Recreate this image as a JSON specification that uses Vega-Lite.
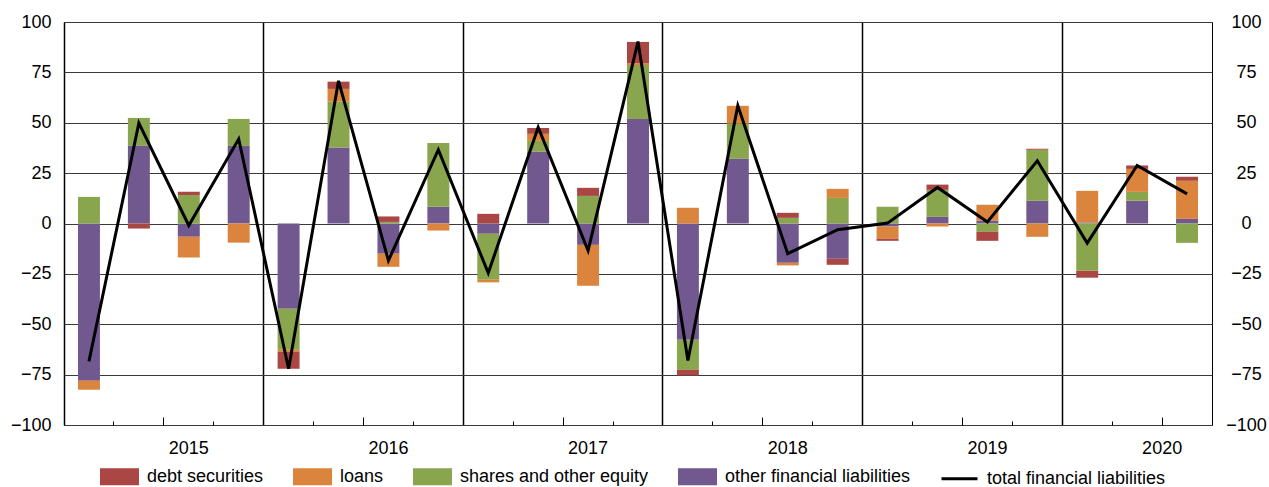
{
  "$schema": "https://vega.github.io/schema/vega-lite/v6.json",
  "width": 1148,
  "height": 403,
  "autosize": "none",
  "padding": {"left": 64, "top": 22, "right": 57, "bottom": 62},
  "background": "white",
  "config": {
    "font": "Liberation Sans",
    "view": {"stroke": "black", "strokeWidth": 1},
    "axis": {"labelFont": "Liberation Sans", "labelFontSize": 18, "labelColor": "black", "domain": false, "title": null}
  },
  "data": {
    "values": [
      {"q": "2015Q1", "debt securities": 0, "loans": -4.5, "shares and other equity": 13.2, "other financial liabilities": -78.0, "total": -68.4},
      {"q": "2015Q2", "debt securities": -2.5, "loans": 0, "shares and other equity": 13.9, "other financial liabilities": 38.5, "total": 49.8},
      {"q": "2015Q3", "debt securities": 1.5, "loans": -10.3, "shares and other equity": 14.2, "other financial liabilities": -6.6, "total": -1.0},
      {"q": "2015Q4", "debt securities": 0, "loans": -9.5, "shares and other equity": 13.4, "other financial liabilities": 38.5, "total": 41.9},
      {"q": "2016Q1", "debt securities": -8.5, "loans": -1.0, "shares and other equity": -20.3, "other financial liabilities": -42.3, "total": -72.1},
      {"q": "2016Q2", "debt securities": 3.6, "loans": 6.3, "shares and other equity": 22.8, "other financial liabilities": 37.7, "total": 70.8},
      {"q": "2016Q3", "debt securities": 2.7, "loans": -6.5, "shares and other equity": 0.8, "other financial liabilities": -15.0, "total": -18.4},
      {"q": "2016Q4", "debt securities": 0, "loans": -3.5, "shares and other equity": 31.7, "other financial liabilities": 8.3, "total": 36.6},
      {"q": "2017Q1", "debt securities": 4.8, "loans": -1.3, "shares and other equity": -22.8, "other financial liabilities": -5.1, "total": -24.6},
      {"q": "2017Q2", "debt securities": 2.9, "loans": 3.5, "shares and other equity": 5.4, "other financial liabilities": 35.6, "total": 47.8},
      {"q": "2017Q3", "debt securities": 4.0, "loans": -20.3, "shares and other equity": 13.7, "other financial liabilities": -10.6, "total": -13.4},
      {"q": "2017Q4", "debt securities": 10.5, "loans": 1.0, "shares and other equity": 26.7, "other financial liabilities": 51.9, "total": 90.3},
      {"q": "2018Q1", "debt securities": -2.8, "loans": 7.8, "shares and other equity": -14.9, "other financial liabilities": -57.7, "total": -68.0},
      {"q": "2018Q2", "debt securities": 0, "loans": 8.8, "shares and other equity": 17.5, "other financial liabilities": 32.1, "total": 58.5},
      {"q": "2018Q3", "debt securities": 2.5, "loans": -1.3, "shares and other equity": 2.8, "other financial liabilities": -19.5, "total": -15.0},
      {"q": "2018Q4", "debt securities": -3.0, "loans": 4.5, "shares and other equity": 12.7, "other financial liabilities": -17.5, "total": -3.1},
      {"q": "2019Q1", "debt securities": -1.0, "loans": -6.1, "shares and other equity": 8.3, "other financial liabilities": -1.5, "total": 0.2},
      {"q": "2019Q2", "debt securities": 2.6, "loans": -1.5, "shares and other equity": 13.4, "other financial liabilities": 3.3, "total": 17.9},
      {"q": "2019Q3", "debt securities": -4.5, "loans": 7.8, "shares and other equity": -4.1, "other financial liabilities": 1.5, "total": 0.8},
      {"q": "2019Q4", "debt securities": 0.5, "loans": -6.6, "shares and other equity": 25.3, "other financial liabilities": 11.3, "total": 31.1},
      {"q": "2020Q1", "debt securities": -3.4, "loans": 15.7, "shares and other equity": -23.5, "other financial liabilities": 0.5, "total": -9.7},
      {"q": "2020Q2", "debt securities": 1.7, "loans": 11.4, "shares and other equity": 4.4, "other financial liabilities": 11.3, "total": 28.8},
      {"q": "2020Q3", "debt securities": 2.0, "loans": 18.9, "shares and other equity": -9.6, "other financial liabilities": 2.3, "total": 14.7}
    ]
  },
  "layer": [
    {
      "transform": [
        {"fold": ["other financial liabilities", "shares and other equity", "loans", "debt securities"], "as": ["series", "value"]},
        {"calculate": "indexof(['other financial liabilities', 'shares and other equity', 'loans', 'debt securities'], datum.series)", "as": "stackRank"}
      ],
      "mark": {"type": "bar", "width": {"band": 0.44}},
      "encoding": {
        "x": {
          "field": "q",
          "type": "ordinal",
          "scale": {"paddingInner": 0, "paddingOuter": 0},
          "axis": {
            "title": null,
            "domain": false,
            "bandPosition": 0,
            "labelAngle": 0,
            "labelOverlap": false,
            "labelPadding": {"condition": {"test": "datum.value === '2020Q2'", "value": 18}, "value": 22},
            "labelExpr": "(indexof(datum.value, 'Q3') > 0 && datum.value < '2020') ? slice(datum.value, 0, 4) : (datum.value === '2020Q2' ? '2020' : '')",
            "labelOffset": {"condition": {"test": "datum.value === '2020Q2'", "value": 25}, "value": 0},
            "tickColor": "black",
            "tickWidth": 1,
            "tickSize": {"condition": {"test": "indexof(datum.value, 'Q3') > 0", "value": -8}, "value": -4},
            "tickOpacity": {"condition": {"test": "indexof(datum.value, 'Q1') > 0", "value": 0}, "value": 1},
            "grid": true,
            "gridColor": "black",
            "gridWidth": 1.5,
            "gridOpacity": {"condition": {"test": "indexof(datum.value, 'Q1') > 0", "value": 1}, "value": 0}
          }
        },
        "y": {
          "field": "value",
          "type": "quantitative",
          "stack": "zero",
          "scale": {"domain": [-100, 100], "nice": false},
          "axis": {
            "orient": "left",
            "values": [-100, -75, -50, -25, 0, 25, 50, 75, 100],
            "grid": true,
            "gridColor": "#3a3a3a",
            "gridWidth": 1,
            "ticks": false,
            "labelPadding": 13
          }
        },
        "color": {
          "field": "series",
          "type": "nominal",
          "scale": {
            "domain": ["debt securities", "loans", "shares and other equity", "other financial liabilities", "total financial liabilities"],
            "range": ["#AA4643", "#DB843D", "#89A54E", "#71588F", "#000000"]
          },
          "legend": {
            "title": null,
            "orient": "none",
            "legendX": 36,
            "legendY": 435,
            "direction": "horizontal",
            "columns": 5,
            "columnPadding": 24,
            "padding": 0,
            "labelFont": "Liberation Sans",
            "labelFontSize": 18,
            "labelColor": "black",
            "labelLimit": 0,
            "labelOffset": 8,
            "symbolSize": 1296,
            "symbolType": "M-1,-0.39L1,-0.39L1,0.39L-1,0.39Z",
            "encode": {
              "symbols": {
                "update": {
                  "shape": {"signal": "datum.value === 'total financial liabilities' ? 'stroke' : 'M-1,-0.39L1,-0.39L1,0.39L-1,0.39Z'"},
                  "stroke": {"signal": "datum.value === 'total financial liabilities' ? '#000000' : 'transparent'"},
                  "strokeWidth": {"value": 3},
                  "fill": {"signal": "datum.value === 'total financial liabilities' ? 'transparent' : scale('color', datum.value)"},
                  "opacity": {"value": 1}
                }
              }
            }
          }
        },
        "order": {"field": "stackRank", "type": "quantitative"}
      }
    },
    {
      "mark": {"type": "line", "strokeWidth": 3, "strokeJoin": "miter"},
      "encoding": {
        "x": {"field": "q", "type": "ordinal"},
        "y": {
          "field": "total",
          "type": "quantitative",
          "scale": {"domain": [-100, 100], "nice": false},
          "axis": {
            "orient": "right",
            "values": [-100, -75, -50, -25, 0, 25, 50, 75, 100],
            "grid": false,
            "ticks": false,
            "labelAlign": "center",
            "labelPadding": 34
          }
        },
        "color": {"datum": "total financial liabilities"}
      }
    }
  ],
  "resolve": {"scale": {"y": "independent"}, "axis": {"y": "independent"}}
}
